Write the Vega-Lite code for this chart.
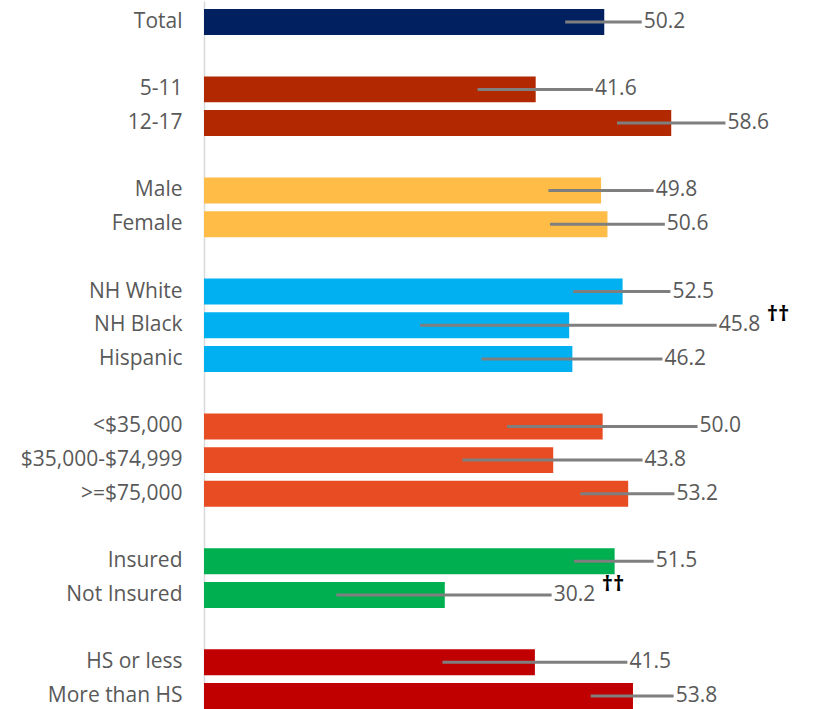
{
  "$schema": "https://vega.github.io/schema/vega-lite/v6.json",
  "width": 598,
  "height": 716,
  "autosize": {"type": "none"},
  "padding": {"left": 204, "top": 1, "right": 0, "bottom": 0},
  "background": "#ffffff",
  "config": {"view": {"stroke": null}, "font": "Open Sans"},
  "data": {
    "values": [
      {"cat": "Total", "group": "Total", "value": 50.2, "lo": 45.3, "hi": 54.9, "note": ""},
      {"cat": "5-11", "group": "Age", "value": 41.6, "lo": 34.3, "hi": 48.8, "note": ""},
      {"cat": "12-17", "group": "Age", "value": 58.6, "lo": 51.8, "hi": 65.4, "note": ""},
      {"cat": "Male", "group": "Sex", "value": 49.8, "lo": 43.2, "hi": 56.4, "note": ""},
      {"cat": "Female", "group": "Sex", "value": 50.6, "lo": 43.4, "hi": 57.8, "note": ""},
      {"cat": "NH White", "group": "Race", "value": 52.5, "lo": 46.3, "hi": 58.5, "note": ""},
      {"cat": "NH Black", "group": "Race", "value": 45.8, "lo": 27.1, "hi": 64.3, "note": "††"},
      {"cat": "Hispanic", "group": "Race", "value": 46.2, "lo": 34.8, "hi": 57.5, "note": ""},
      {"cat": "<$35,000", "group": "Income", "value": 50.0, "lo": 38.0, "hi": 61.9, "note": ""},
      {"cat": "$35,000-$74,999", "group": "Income", "value": 43.8, "lo": 32.4, "hi": 55.0, "note": ""},
      {"cat": ">=$75,000\u00a0", "group": "Income", "value": 53.2, "lo": 47.2, "hi": 59.0, "note": ""},
      {"cat": "Insured", "group": "Insurance", "value": 51.5, "lo": 46.4, "hi": 56.4, "note": ""},
      {"cat": "Not Insured", "group": "Insurance", "value": 30.2, "lo": 16.6, "hi": 43.6, "note": "††"},
      {"cat": "HS or less", "group": "Education", "value": 41.5, "lo": 29.9, "hi": 53.1, "note": ""},
      {"cat": "More than HS", "group": "Education", "value": 53.8, "lo": 48.5, "hi": 58.9, "note": ""}
    ]
  },
  "encoding": {
    "y": {
      "field": "cat",
      "type": "nominal",
      "sort": null,
      "scale": {
        "domain": ["Total", "gap1", "5-11", "12-17", "gap2", "Male", "Female", "gap3", "NH White", "NH Black", "Hispanic", "gap4", "<$35,000", "$35,000-$74,999", ">=$75,000\u00a0", "gap5", "Insured", "Not Insured", "gap6", "HS or less", "More than HS"],
        "paddingInner": 0.23,
        "paddingOuter": 0.238
      },
      "axis": {
        "title": null,
        "ticks": false,
        "labelPadding": 22,
        "labelFontSize": 21,
        "labelFont": "Open Sans",
        "labelColor": "#595959",
        "labelLimit": 250,
        "domainColor": "#d9d9d9",
        "domainWidth": 1.5,
        "labelExpr": "indexof(datum.label,'gap')==0 ? '' : datum.label"
      }
    }
  },
  "layer": [
    {
      "mark": {"type": "bar"},
      "encoding": {
        "x": {"field": "value", "type": "quantitative", "scale": {"domain": [0, 75], "nice": false, "zero": true}, "axis": null},
        "color": {
          "field": "group",
          "type": "nominal",
          "scale": {
            "domain": ["Total", "Age", "Sex", "Race", "Income", "Insurance", "Education"],
            "range": ["#002060", "#B22800", "#FFBC47", "#00B0F0", "#E84C22", "#00B050", "#C00000"]
          },
          "legend": null
        }
      }
    },
    {
      "mark": {"type": "rule", "stroke": "#7f7f7f", "strokeWidth": 3},
      "encoding": {
        "x": {"field": "lo", "type": "quantitative"},
        "x2": {"field": "hi"}
      }
    },
    {
      "mark": {"type": "text", "align": "left", "baseline": "middle", "dx": 2, "fontSize": 21, "font": "Open Sans", "color": "#595959"},
      "encoding": {
        "x": {"field": "hi", "type": "quantitative"},
        "text": {"field": "value", "type": "quantitative", "format": ".1f"}
      }
    },
    {
      "mark": {"type": "text", "align": "left", "baseline": "middle", "dx": 50, "dy": -11, "fontSize": 22, "font": "Open Sans", "fontWeight": "bold", "color": "#000000"},
      "encoding": {
        "x": {"field": "hi", "type": "quantitative"},
        "text": {"field": "note"}
      }
    }
  ]
}
